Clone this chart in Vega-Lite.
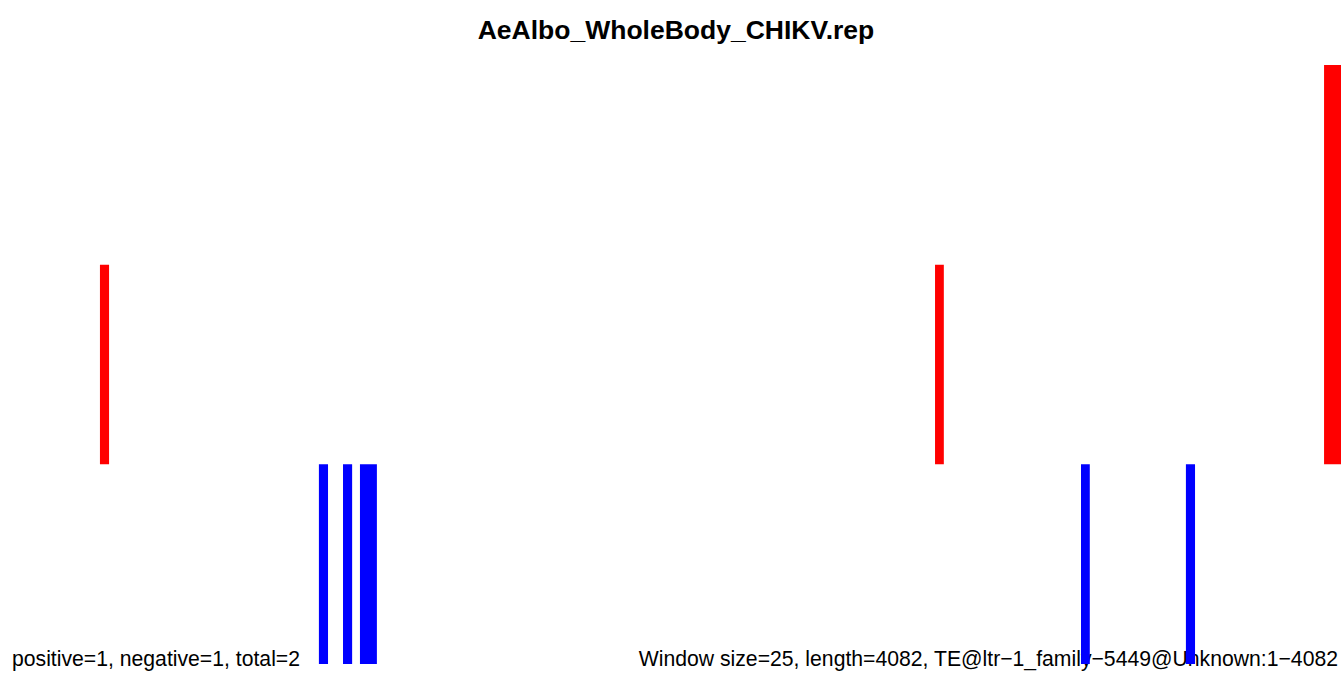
{
  "$schema": "https://vega.github.io/schema/vega-lite/v6.json",
  "width": 1330,
  "height": 599,
  "autosize": "none",
  "padding": {"left": 11, "top": 65, "right": 0, "bottom": 11},
  "background": "white",
  "title": {"text": "AeAlbo_WholeBody_CHIKV.rep", "font": "Liberation Sans", "fontSize": 26.5, "fontWeight": "bold", "anchor": "middle", "baseline": "alphabetic", "offset": 0, "color": "black"},
  "config": {"view": {"stroke": null}},
  "layer": [
    {
      "mark": {"type": "rule", "color": "#555555", "strokeWidth": 1},
      "encoding": {"y": {"datum": 0, "type": "quantitative", "scale": {"domain": [-1, 2], "nice": false}, "axis": null}}
    },
    {
      "data": {"values": [{"x": 0, "y": -1, "label": "positive=1, negative=1, total=2"}]},
      "mark": {"type": "text", "align": "left", "baseline": "alphabetic", "font": "Liberation Sans", "fontSize": 21.2, "color": "black", "dx": 1, "dy": 2},
      "encoding": {
        "x": {"field": "x", "type": "quantitative", "scale": {"domain": [0, 4082], "nice": false, "zero": false}, "axis": null},
        "y": {"field": "y", "type": "quantitative"},
        "text": {"field": "label"}
      }
    },
    {
      "data": {"values": [{"x": 4082, "y": -1, "label": "Window size=25, length=4082, TE@ltr−1_family−5449@Unknown:1−4082"}]},
      "mark": {"type": "text", "align": "right", "baseline": "alphabetic", "font": "Liberation Sans", "fontSize": 21.2, "color": "black", "dx": -3, "dy": 2},
      "encoding": {
        "x": {"field": "x", "type": "quantitative"},
        "y": {"field": "y", "type": "quantitative"},
        "text": {"field": "label"}
      }
    },
    {
      "data": {"values": [
        {"start": 273, "end": 301, "value": 1},
        {"start": 945, "end": 973, "value": -1},
        {"start": 1019, "end": 1047, "value": -1},
        {"start": 1071, "end": 1123, "value": -1},
        {"start": 2836, "end": 2863, "value": 1},
        {"start": 3284, "end": 3311, "value": -1},
        {"start": 3606, "end": 3634, "value": -1},
        {"start": 4030, "end": 4082, "value": 2}
      ]},
      "mark": {"type": "bar", "stroke": null},
      "encoding": {
        "x": {"field": "start", "type": "quantitative"},
        "x2": {"field": "end"},
        "y": {"field": "value", "type": "quantitative"},
        "y2": {"datum": 0},
        "color": {"condition": {"test": "datum.value > 0", "value": "#FF0000"}, "value": "#0000FF"}
      }
    }
  ]
}
